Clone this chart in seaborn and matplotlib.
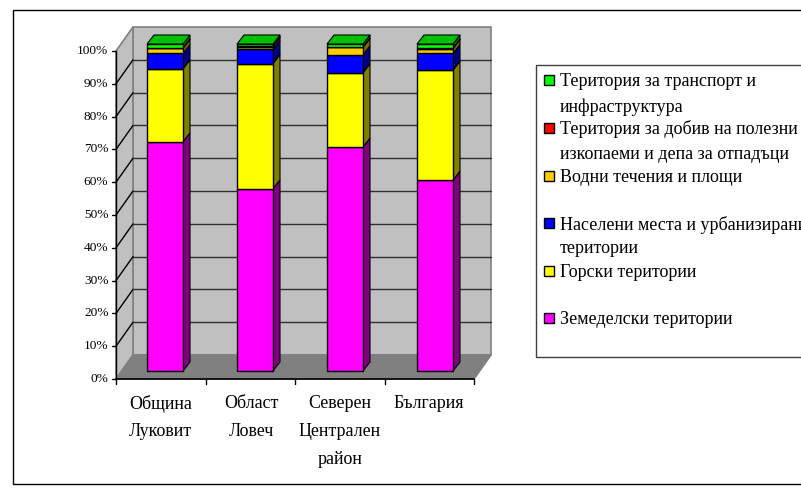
import matplotlib
matplotlib.use("Agg")
import matplotlib.pyplot as plt
import seaborn as sns
from matplotlib.patches import Polygon, Rectangle

# ---- Data ----
regions = ["Община\nЛуковит", "Област\nЛовеч", "Северен\nЦентрален\nрайон", "България"]
zemedelski = [70.1, 55.7, 68.5, 58.4]
gorski = [22.3, 38.3, 22.7, 33.6]
naseleni = [4.7, 4.4, 5.5, 5.1]
vodni = [1.6, 0.8, 2.3, 1.5]
dobiv = [0.1, 0.2, 0.1, 0.2]
transport = [1.2, 0.6, 0.9, 1.2]
percent_ticks = [0, 10, 20, 30, 40, 50, 60, 70, 80, 90, 100]

series = [
    ("Земеделски територии", zemedelski, "#ff00ff", "#800080"),
    ("Горски територии", gorski, "#ffff00", "#808000"),
    ("Населени места и урбанизирани", naseleni, "#0000ff", "#000080"),
    ("Водни течения и площи", vodni, "#ffcc00", "#806600"),
    ("Територия за добив на полезни", dobiv, "#ff0000", "#800000"),
    ("Територия за транспорт и", transport, "#00ff00", "#008000"),
]
top_colour = "#00c000"

W, H = 801, 495
DX, DY = 7, 9  # depth of the fake 3d, pixels

sns.set_theme(style="white")
plt.rcParams["font.family"] = ["Liberation Serif", "DejaVu Serif"]

fig = plt.figure(figsize=(W / 100, H / 100), dpi=100)

# background layer in pixel coordinates: frame, walls, legend
bg = fig.add_axes([0, 0, 1, 1])
bg.set_xlim(0, W)
bg.set_ylim(H, 0)
bg.axis("off")

bg.add_patch(Rectangle((13, 10), W, 474, fc="white", ec="black", lw=1))

# walls and floor
wall_edge = "#808080"
bg.add_patch(Polygon([(133, 27), (491, 27), (491, 355), (133, 355)], fc="#c0c0c0", ec=wall_edge, lw=1.2))
bg.add_patch(Polygon([(116, 51), (133, 27), (133, 355), (116, 379)], fc="#c0c0c0", ec=wall_edge, lw=1.2))
bg.add_patch(Polygon([(116, 379), (133, 355), (491, 355), (474, 379)], fc="#808080", ec=wall_edge, lw=1.2))

# gridlines and ticks follow the same 0-100 scale as the bars
for t in percent_ticks:
    yf = 379 - 3.28 * t
    yb = yf - 24
    if 0 < t < 100:
        bg.plot([116, 133], [yf, yb], color="black", lw=1)
        bg.plot([133, 491], [yb, yb], color="#303030", lw=1)
    bg.plot([112, 116], [yf, yf], color="black", lw=1)
    bg.text(108.5, yf, f"{t}%", ha="right", va="center", fontsize=9.6, color="black")
bg.plot([116, 116], [51, 379], color="black", lw=1)
bg.plot([116, 474], [379, 379], color="black", lw=1.2)
for i in range(5):
    x = 116 + 89.5 * i
    bg.plot([x, x], [379, 384], color="black", lw=1)

# bars in a transparent axes on top
ax = fig.add_axes([0, 0, 1, 1])
PX = 90.0   # pixels per category
PY = 3.27   # pixels per percent
x_left, x_right = (0 - 165) / PX, (W - 165) / PX
ax.set_xlim(x_left, x_right)
ax.set_ylim((371 - H) / PY, 371 / PY)
ax.patch.set_alpha(0)
ax.axis("off")

bottom = [0, 0, 0, 0]
for name, values, face, side in series:
    before = len(ax.patches)
    sns.barplot(x=list(range(4)), y=values, bottom=bottom, color=face, saturation=1,
                width=0.4, edgecolor="black", linewidth=1, native_scale=True, ax=ax, zorder=3)
    ax.set_xlim(x_left, x_right)
    ax.set_ylim((371 - H) / PY, 371 / PY)
    for bar in ax.patches[before:before + 4]:
        x1 = bar.get_x() + bar.get_width()
        y0, y1 = bar.get_y(), bar.get_y() + bar.get_height()
        ddx, ddy = DX / PX, DY / PY
        ax.add_patch(Polygon([(x1, y0), (x1 + ddx, y0 + ddy), (x1 + ddx, y1 + ddy), (x1, y1)],
                             fc=side, ec="black", lw=0.8, zorder=2))
    bottom = [b + v for b, v in zip(bottom, values)]

# green lid on every bar
for i, top in enumerate(bottom):
    ddx, ddy = DX / PX, DY / PY
    ax.add_patch(Polygon([(i - 0.2, top), (i + 0.2, top), (i + 0.2 + ddx, top + ddy), (i - 0.2 + ddx, top + ddy)],
                         fc=top_colour, ec="black", lw=0.8, zorder=4))

# category labels
label_x = [160.5, 251, 340, 429]
for x, label in zip(label_x, regions):
    for j, line in enumerate(label.split("\n")):
        bg.text(x, 404 + j * 28, line, ha="center", va="center", fontsize=12.9, color="black")

# legend
bg.add_patch(Rectangle((535.5, 64.5), W, 292, fc="white", ec="#404040", lw=1))
legend_rows = [
    (80, "#00ff00", "Територия за транспорт и"),
    (105.5, None, "инфраструктура"),
    (128, "#ff0000", "Територия за добив на полезни"),
    (153, None, "изкопаеми и депа за отпадъци"),
    (176, "#ffcc00", "Водни течения и площи"),
    (223, "#0000ff", "Населени места и урбанизирани"),
    (247, None, "територии"),
    (271, "#ffff00", "Горски територии"),
    (318, "#ff00ff", "Земеделски територии"),
]
for y, colour, text in legend_rows:
    if colour:
        bg.add_patch(Rectangle((544, y - 5), 10, 10, fc=colour, ec="black", lw=1))
    bg.text(560, y + 1.5, text, ha="left", va="center", fontsize=13, color="black")

fig.savefig("out.png", dpi=100)
